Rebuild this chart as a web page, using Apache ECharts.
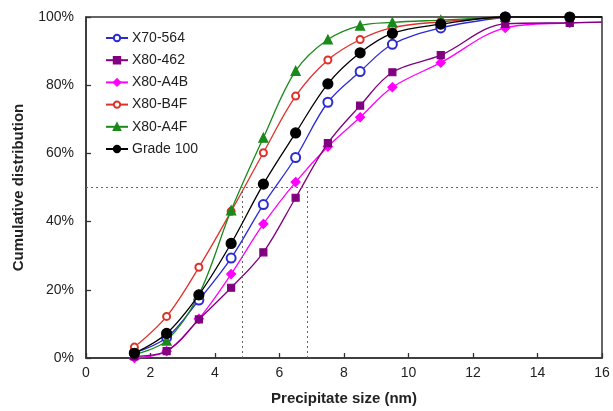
<!DOCTYPE html>
<html>
<head>
<meta charset="utf-8">
<script src="https://cdn.jsdelivr.net/npm/echarts@6/dist/echarts.min.js"></script>
<style>html,body{margin:0;padding:0;background:#fff;}#c{width:613px;height:411px;}</style>
</head>
<body>
<div id="c"></div>
<script>
// x positions (nm)
const sizes = [1.5, 2.5, 3.5, 4.5, 5.5, 6.5, 7.5, 8.5, 9.5, 11, 13, 15, 16];
// cumulative distribution (%)
const x70_564 = [1.5, 6, 17, 29.3, 45, 58.8, 75, 84, 92, 96.8, 100];
const x80_462 = [0.5, 2, 11.3, 20.6, 31, 47, 63, 74, 83.8, 88.8, 98, 98.3, 98.5];
const x80_A4B = [0, 2, 11.5, 24.6, 39.3, 51.6, 62, 70.6, 79.4, 86.6, 96.8, 98.3, 98.5];
const x80_B4F = [3.2, 12.2, 26.6, 43, 60.2, 76.8, 87.4, 93.4, 96.9, 98.6, 100];
const x80_A4F = [1, 5.1, 18.6, 43.3, 64.6, 84.2, 93.4, 97.5, 98.4, 99.1, 100];
const grade100 = [1.4, 7.2, 18.5, 33.6, 51, 66, 80.4, 89.5, 95.2, 97.9, 100, 100, 100];
// reference lines
const medianLevel = 50;
const medianSizes = [4.85, 6.85];
const xTicks = {min: 0, max: 16, interval: 2};
const yTicks = {min: 0, max: 100, interval: 20};

function pts(vals, hideFrom) {
  return vals.map((v, i) => {
    const p = {value: [sizes[i], v]};
    if (sizes[i] >= hideFrom) p.symbol = 'none';
    return p;
  });
}

const seriesDefs = [
  {name: 'X70-564', data: x70_564, color: '#2b2bd6', symbol: 'emptyCircle', size: 9, z: 2},
  {name: 'X80-462', data: x80_462, color: '#800080', symbol: 'rect', size: 7, z: 4},
  {name: 'X80-A4B', data: x80_A4B, color: '#ff00ff', symbol: 'diamond', size: 9, z: 3},
  {name: 'X80-B4F', data: x80_B4F, color: '#e0302a', symbol: 'emptyCircle', size: 7, z: 2},
  {name: 'X80-A4F', data: x80_A4F, color: '#1a8a1a', symbol: 'triangle', size: 9, z: 2},
  {name: 'Grade 100', data: grade100, color: '#000000', symbol: 'circle', size: 10, z: 5}
];

const series = seriesDefs.map(d => ({
  name: d.name,
  type: 'line',
  smooth: 0.35,
  data: pts(d.data, 15.5),
  symbol: d.symbol,
  symbolSize: d.size,
  z: d.z,
  clip: false,
  lineStyle: {color: d.color, width: 1.3},
  itemStyle: {color: d.color, borderColor: d.color, borderWidth: 1.2},
  emphasis: {disabled: true}
}));

series.push({
  type: 'line',
  data: [],
  silent: true,
  markLine: {
    silent: true,
    symbol: 'none',
    label: {show: false},
    lineStyle: {color: '#666', type: [2, 3], width: 1},
    data: [
      [{coord: [xTicks.min, medianLevel]}, {coord: [xTicks.max, medianLevel]}],
      ...medianSizes.map(s => [{coord: [s, 0]}, {coord: [s, medianLevel]}])
    ]
  }
});

const chart = echarts.init(document.getElementById('c'), null, {renderer: 'canvas'});
chart.setOption({
  animation: false,
  backgroundColor: '#fff',
  textStyle: {fontFamily: 'Liberation Sans, Arial, sans-serif'},
  grid: {left: 86, right: 11, top: 17, bottom: 53, show: true, borderColor: '#333', borderWidth: 1.5, backgroundColor: 'transparent'},
  legend: {
    orient: 'vertical',
    left: 100,
    top: 26,
    itemWidth: 22,
    itemHeight: 8,
    itemGap: 8.2,
    textStyle: {fontSize: 14, color: '#222', fontFamily: 'Liberation Sans, Arial, sans-serif', padding: [0, 0, 0, -1]},
    data: seriesDefs.map(d => d.name)
  },
  xAxis: {
    type: 'value',
    min: xTicks.min, max: xTicks.max, interval: xTicks.interval,
    name: 'Precipitate size (nm)',
    nameLocation: 'middle',
    nameGap: 33,
    nameTextStyle: {fontSize: 15, fontWeight: 'bold', color: '#222'},
    axisLine: {lineStyle: {color: '#333', width: 1.5}},
    axisTick: {inside: true, length: 5, lineStyle: {color: '#333', width: 1.3}},
    axisLabel: {fontSize: 14, color: '#222', margin: 8},
    splitLine: {show: false}
  },
  yAxis: {
    type: 'value',
    min: yTicks.min, max: yTicks.max, interval: yTicks.interval,
    name: 'Cumulative distribution',
    nameLocation: 'middle',
    nameGap: 60,
    nameTextStyle: {fontSize: 15, fontWeight: 'bold', color: '#222'},
    axisLine: {lineStyle: {color: '#333', width: 1.5}},
    axisTick: {inside: true, length: 5, lineStyle: {color: '#333', width: 1.3}},
    axisLabel: {fontSize: 14, color: '#222', margin: 12, formatter: '{value}%'},
    splitLine: {show: false}
  },
  series: series
});
</script>
</body>
</html>
